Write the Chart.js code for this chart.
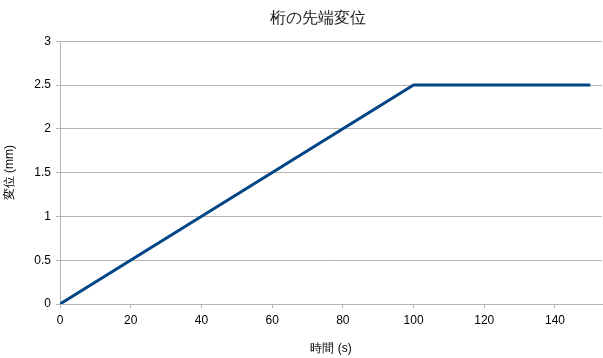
<!DOCTYPE html>
<html>
<head>
<meta charset="utf-8">
<script src="https://cdn.jsdelivr.net/npm/chart.js@4/dist/chart.umd.min.js"></script>
<style>
  html, body { margin: 0; padding: 0; background: #fff; }
  #wrap { width: 603px; height: 358px; }
</style>
</head>
<body>
<div id="wrap"><canvas id="chart"></canvas></div>
<script>
// Data
const timeS = [0, 100, 150];
const dispMm = [0, 2.5, 2.5];
const xTicks = [0, 20, 40, 60, 80, 100, 120, 140];
const yTicks = [0, 0.5, 1, 1.5, 2, 2.5, 3];

const gridGray = '#b3b3b3';
const font = "'Liberation Sans', Arial, sans-serif";

// the title sits a little right of the canvas centre in the original
const shiftTitle = {
  id: 'shiftTitle',
  afterLayout(c) {
    if (c.titleBlock) { c.titleBlock.left += 17; c.titleBlock.right += 17; }
  }
};

const ctx = document.getElementById('chart').getContext('2d');
const chart = new Chart(ctx, {
  type: 'line',
  data: {
    datasets: [{
      label: '変位',
      data: timeS.map((t, i) => ({ x: t, y: dispMm[i] })),
      borderColor: '#004586',
      borderWidth: 3,
      pointRadius: 0,
      tension: 0,
      fill: false
    }]
  },
  plugins: [shiftTitle],
  options: {
    responsive: true,
    maintainAspectRatio: false,
    animation: false,
    layout: { padding: { left: 0, right: 1, top: 0, bottom: 0 } },
    plugins: {
      legend: { display: false },
      tooltip: { enabled: false },
      title: {
        display: true,
        text: '桁の先端変位',
        color: '#222',
        font: { family: font, size: 16, weight: 'normal' },
        padding: { top: 9, bottom: 13 }
      }
    },
    scales: {
      x: {
        type: 'linear',
        min: 0,
        max: 153.3,
        afterBuildTicks: s => { s.ticks = xTicks.map(v => ({ value: v })); },
        afterFit: s => { s.height = 54; },
        grid: { drawOnChartArea: false, color: gridGray, tickLength: 4 },
        border: { color: gridGray, width: 1 },
        ticks: { color: '#000', padding: 5, font: { family: font, size: 12 }, maxRotation: 0,
                 callback: v => String(v) },
        title: {
          display: true,
          text: '時間 (s)',
          color: '#000',
          font: { family: font, size: 12 },
          padding: { top: 4, bottom: 2 }
        }
      },
      y: {
        min: 0,
        max: 3,
        afterBuildTicks: s => { s.ticks = yTicks.map(v => ({ value: v })); },
        afterFit: s => { s.width = 60; },
        grid: { color: gridGray, tickLength: 4 },
        border: { color: gridGray, width: 1 },
        ticks: { color: '#000', padding: 5, font: { family: font, size: 12 },
                 callback: v => String(v) },
        title: {
          display: true,
          text: '変位 (mm)',
          color: '#000',
          font: { family: font, size: 12 },
          padding: { top: 2, bottom: 2 }
        }
      }
    }
  }
});
</script>
</body>
</html>
